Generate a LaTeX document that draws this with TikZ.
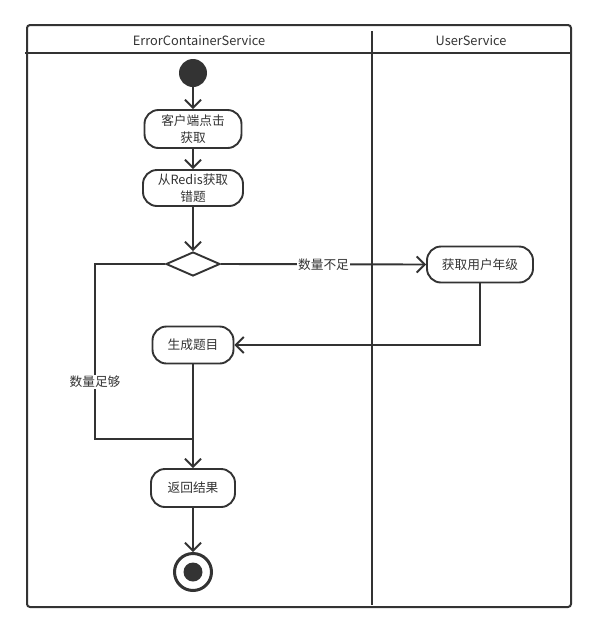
\documentclass[tikz,border=0pt]{standalone}
\usepackage{fontspec}
\setmainfont{Noto Sans CJK SC}
\usetikzlibrary{arrows.meta,shapes.geometric}
\definecolor{ink}{HTML}{333333}
\tikzset{
  act/.style={draw=ink, line width=1.9pt, rounded corners=14pt, align=center, text=ink, inner sep=0pt,
    font=\fontsize{12.7}{17}\selectfont},
  conn/.style={draw=ink, line width=1.9pt},
  arr/.style={conn, -{Straight Barb[length=8pt,width=16pt,line width=1.9pt]}},
  lbl/.style={fill=white, text=ink, inner sep=1pt, font=\fontsize{12.7}{15}\selectfont},
  hdr/.style={text=ink, font=\fontsize{12.8}{15}\selectfont},
}
\begin{document}
\begin{tikzpicture}[x=1pt,y=-1pt]
\useasboundingbox (0,0) rectangle (597,633);
% frame
\draw[ink, line width=2pt, rounded corners=3pt] (27,25) rectangle (571,607);
\draw[ink, line width=2pt] (25,53) -- (572,53);
\draw[ink, line width=2pt] (371.5,31) -- (371.5,605);
\node[hdr] (h1) at (199,41) {ErrorContainerService};
\node[hdr] (h2) at (471,41) {UserService};
% nodes
\node[circle, fill=ink, minimum size=28pt, inner sep=0pt] (start) at (193,73) {};
\node[act, minimum width=97pt, minimum height=38pt] (n1) at (193,129) {客户端点击\\获取};
\node[act, minimum width=100pt, minimum height=36pt] (n2) at (193,188) {从Redis获取\\错题};
\node[draw=ink, line width=1.9pt, diamond, minimum width=54pt, minimum height=24pt, inner sep=0pt] (dia) at (193,264) {};
\node[act, minimum width=106pt, minimum height=36pt] (ua) at (480,264.5) {获取用户年级};
\node[act, minimum width=81pt, minimum height=37pt] (gen) at (193,345) {生成题目};
\node[act, minimum width=84pt, minimum height=38pt] (ret) at (193,488) {返回结果};
\node[circle, draw=ink, line width=3pt, minimum size=37pt, inner sep=0pt] (end) at (193,572) {};
\node[circle, fill=ink, minimum size=19pt, inner sep=0pt] (enddot) at (193,572) {};
\coordinate (m) at (95,439);
% connectors
\draw[arr] (start.south) -- (n1.north);
\draw[arr] (n1.south) -- (n2.north);
\draw[arr] (n2.south) -- (dia.north);
\draw[arr] (dia.east) -- node[lbl, pos=0.5] {数量不足} (ua.west);
\draw[arr] (ua.south) |- (gen.east);
\draw[arr] (gen.south) -- (ret.north);
\draw[conn] (dia.west) -| (m) -- (ret.north |- m);
\node[lbl] (l2) at (95,382) {数量足够};
\draw[arr] (ret.south) -- (end.north);
\end{tikzpicture}
\end{document}
